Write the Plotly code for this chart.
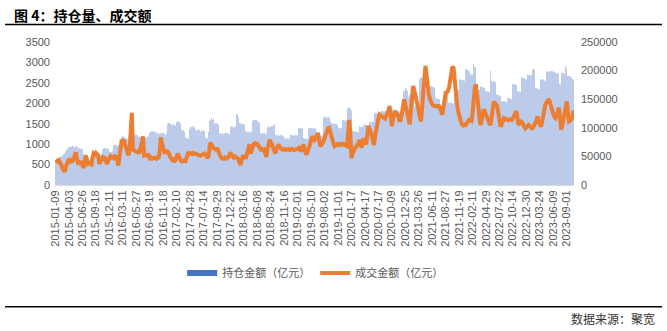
import plotly.graph_objects as go

# x tick labels (one every 12 weekly observations)
tick_labels = ["2015-01-09","2015-04-03","2015-06-26","2015-09-18","2015-12-11","2016-03-11",
               "2016-05-27","2016-08-19","2016-11-18","2017-02-10","2017-04-28","2017-07-14",
               "2017-09-29","2017-12-22","2018-03-16","2018-06-08","2018-08-24","2018-11-16",
               "2019-02-01","2019-05-10","2019-08-02","2019-11-01","2020-01-17","2020-04-17",
               "2020-07-17","2020-10-09","2020-12-25","2021-03-26","2021-06-11","2021-08-27",
               "2021-11-19","2022-02-11","2022-04-29","2022-07-22","2022-10-14","2022-12-30",
               "2023-03-24","2023-06-09","2023-09-01"]

# 持仓金额（亿元）, left axis
holding = [
 600,620,610,640,660,700,720,760,780,820,860,880,
 920,945,930,960,940,900,950,930,890,900,880,900,
 860,760,660,650,630,640,620,650,640,700,740,720,
 730,740,720,700,730,760,860,900,880,900,870,890,
 820,800,810,830,960,985,970,950,980,960,1100,1180,
 1190,1170,1150,1120,1140,1150,1100,1130,1060,1200,1230,1210,
 1230,1220,1180,1190,1170,1160,1190,1180,1150,1170,1190,1180,
 1280,1300,1315,1290,1310,1280,1300,1260,1240,1270,1250,1260,
 1270,1240,1220,1260,1480,1520,1500,1460,1420,1480,1470,1450,
 1530,1560,1540,1500,1350,1330,1340,1300,1160,1150,1130,1140,
 1360,1420,1440,1400,1430,1350,1330,1340,1350,1300,1340,1320,
 1340,1320,1150,1130,1140,1300,1580,1640,1600,1620,1500,1520,
 1500,1480,1260,1270,1250,1270,1240,1260,1270,1250,1260,1240,
 1420,1440,1430,1400,1420,1440,1730,1650,1520,1500,1510,1490,
 1480,1300,1315,1290,1310,1300,1280,1310,1560,1600,1580,1590,
 1570,1540,1520,1270,1260,1250,1270,1240,1260,1420,1440,1410,
 1430,1440,1400,1480,1230,1220,1210,1230,1200,1220,1210,1190,
 1150,1140,1130,1150,1120,1140,1230,1210,1220,1200,1230,1220,
 1210,1380,1400,1390,1370,1150,1140,1130,1150,1120,1380,1400,
 1390,1380,1400,1370,1390,1220,1230,1210,1220,1200,1230,1650,
 1680,1660,1640,1670,1650,1560,1520,1500,1510,1490,1500,1470,
 1400,1390,1380,1400,1590,1600,1570,1580,1600,1870,1890,1860,
 1820,1330,1315,1300,1310,1290,1300,1440,1420,1430,1410,1460,
 1480,1470,1450,1460,1540,1560,1530,1550,1520,1750,1770,1740,
 1760,1730,1790,1810,1780,1800,1790,1810,1820,1850,1830,1840,
 1850,1820,1840,1850,1830,1810,1820,1790,1800,1770,1760,2300,
 2380,2350,2300,2160,2200,2220,2180,2210,1920,1930,1900,1920,
 1900,2600,2630,2610,2500,2480,2340,2320,2300,2330,2200,2420,
 2400,2410,2380,2140,2120,2110,2100,1930,1920,1910,1930,1900,
 2300,2280,2020,2010,2000,2020,1990,2010,2340,2320,2330,2300,
 2320,2590,2570,2560,2580,2550,2830,2800,2810,2780,2710,2700,
 2690,2960,2880,2340,2320,2300,2330,2420,2400,2410,2380,2300,
 2290,2270,2280,2260,2790,2550,2530,2540,2520,2220,2200,2210,
 2190,2180,2050,2040,2055,2030,2020,2140,2120,2130,2110,2100,
 2470,2450,2460,2440,2300,2280,2290,2270,2630,2600,2610,2590,
 2580,2710,2690,2700,2680,2660,2830,2820,2380,2370,2360,2340,
 2350,2590,2570,2580,2560,2540,2790,2770,2780,2760,2790,2780,
 2770,2760,2750,2740,2730,2470,2460,2450,2750,2740,2730,2920,
 2850,2670,2660,2650,2640,2590,2580,
]

# 成交金额, in thousands of 亿元 (converted to 亿元 below), right axis
turnover_k = [
 44,42,41,43,40,36,30,26,23,30,38,42,
 44,41,43,40,45,50,57,46,39,40,38,39,
 36,30,41,52,44,37,38,37,36,48,55,53,
 56,54,52,37,42,47,48,46,47,41,37,43,
 49,50,48,49,47,50,49,45,34,50,68,79,
 77,79,70,62,58,52,60,95,126,62,60,59,
 58,57,59,58,64,75,85,52,53,52,51,52,
 47,48,46,47,47,48,46,47,48,60,83,72,
 62,58,59,57,58,56,50,45,44,45,42,43,
 48,55,50,44,42,41,42,43,42,47,55,54,
 56,55,54,56,55,54,53,52,52,51,52,53,
 54,55,52,49,47,58,74,70,66,64,63,62,
 63,62,55,50,47,46,47,48,46,47,48,52,
 57,52,49,48,50,49,48,46,40,35,44,49,
 48,50,49,55,64,71,55,62,68,72,73,71,
 72,68,66,62,63,61,62,56,49,62,76,79,
 75,72,66,60,55,63,70,71,66,63,62,62,
 63,61,62,62,63,61,62,63,62,61,62,62,
 63,65,63,59,64,71,62,55,53,60,69,71,
 78,85,82,79,82,88,91,80,68,70,72,76,
 82,88,95,99,100,92,82,79,72,68,70,71,
 70,72,71,70,72,71,70,69,68,90,114,88,
 47,55,62,64,67,70,72,79,72,65,72,82,
 76,71,85,103,98,94,88,78,70,85,98,109,
 116,123,121,120,118,117,116,120,126,130,138,118,
 103,115,126,129,125,123,118,111,114,128,140,150,
 141,132,124,115,106,130,160,173,166,158,145,136,
 129,120,111,130,161,185,208,190,167,158,150,144,
 141,139,138,138,137,138,138,134,128,123,135,150,
 161,162,164,170,185,200,207,205,180,167,145,130,
 120,113,108,105,104,106,105,108,111,114,113,112,
 125,150,170,176,160,138,120,105,112,122,132,128,
 124,120,113,108,105,118,132,146,143,140,138,125,
 110,102,106,112,117,116,115,114,113,114,115,114,
 116,120,125,129,118,105,108,111,110,107,103,99,
 101,104,105,103,101,99,100,103,108,113,120,112,
 105,102,110,124,138,141,144,147,150,145,136,129,
 124,119,117,122,128,135,120,97,104,112,120,134,
 146,130,111,112,115,117,130,
]
turnover = [v * 1000 for v in turnover_k]

x_hold = list(range(len(holding)))
x_turn = list(range(len(turnover)))
n = max(len(holding), len(turnover))

BLUE = "#4472C4"
ORANGE = "#ED7D31"
GRAY = "#595959"
FONT = "Liberation Sans, Noto Sans CJK SC, sans-serif"

fig = go.Figure()
fig.add_trace(go.Bar(x=x_hold, y=holding, marker=dict(color=BLUE, line=dict(width=0)),
                     opacity=0.36, showlegend=False, yaxis="y"))
fig.add_trace(go.Scatter(x=[None], y=[None], mode="lines", name="持仓金额（亿元）",
                         line=dict(color=BLUE, width=6), yaxis="y"))
fig.add_trace(go.Scatter(x=x_turn, y=turnover, mode="lines", name="成交金额（亿元）",
                         line=dict(color=ORANGE, width=4), yaxis="y2"))

fig.update_layout(
    width=667, height=331,
    margin=dict(l=55, r=93, t=42, b=146),
    paper_bgcolor="white", plot_bgcolor="white",
    bargap=0.5,
    font=dict(family=FONT, size=11, color=GRAY),
    xaxis=dict(range=[-0.5, n - 0.5], tickmode="array",
               tickvals=[12 * k for k in range(len(tick_labels))], ticktext=tick_labels,
               tickangle=-90, tickfont=dict(size=11, color=GRAY), showgrid=False,
               showline=True, linecolor="#D9D9D9", linewidth=1, ticks="", zeroline=False),
    yaxis=dict(range=[0, 3500], dtick=500, showgrid=False, zeroline=False, ticks="",
               tickfont=dict(size=11, color=GRAY), ticklabelstandoff=4),
    yaxis2=dict(range=[0, 250000], dtick=50000, overlaying="y", side="right",
                showgrid=False, zeroline=False, ticks="", tickformat="d",
                tickfont=dict(size=11, color=GRAY), ticklabelstandoff=6),
    legend=dict(orientation="h", x=0.245, xanchor="left", y=-0.615, yanchor="middle",
                font=dict(size=11, color=GRAY), bgcolor="rgba(0,0,0,0)"),
    shapes=[
        dict(type="line", xref="paper", yref="paper", x0=-0.0963, x1=1.1696,
             y0=(185 - 24.5) / 143, y1=(185 - 24.5) / 143, line=dict(color="black", width=1.5)),
        dict(type="line", xref="paper", yref="paper", x0=-0.0963, x1=1.1696,
             y0=(185 - 306.7) / 143, y1=(185 - 306.7) / 143, line=dict(color="black", width=1.5)),
    ],
    annotations=[
        dict(text="<b>图 4：持仓量、成交额</b>", xref="paper", yref="paper",
             x=(12 - 55) / 519, y=(185 - 15) / 143, xanchor="left", yanchor="middle",
             showarrow=False, font=dict(family="Noto Sans CJK SC", size=14, color="black")),
        dict(text="数据来源：聚宽", xref="paper", yref="paper",
             x=(657 - 55) / 519, y=(185 - 318) / 143, xanchor="right", yanchor="middle",
             showarrow=False, font=dict(family="Noto Sans CJK SC", size=12, color="#333333")),
    ],
)

fig.write_html("out.html")
